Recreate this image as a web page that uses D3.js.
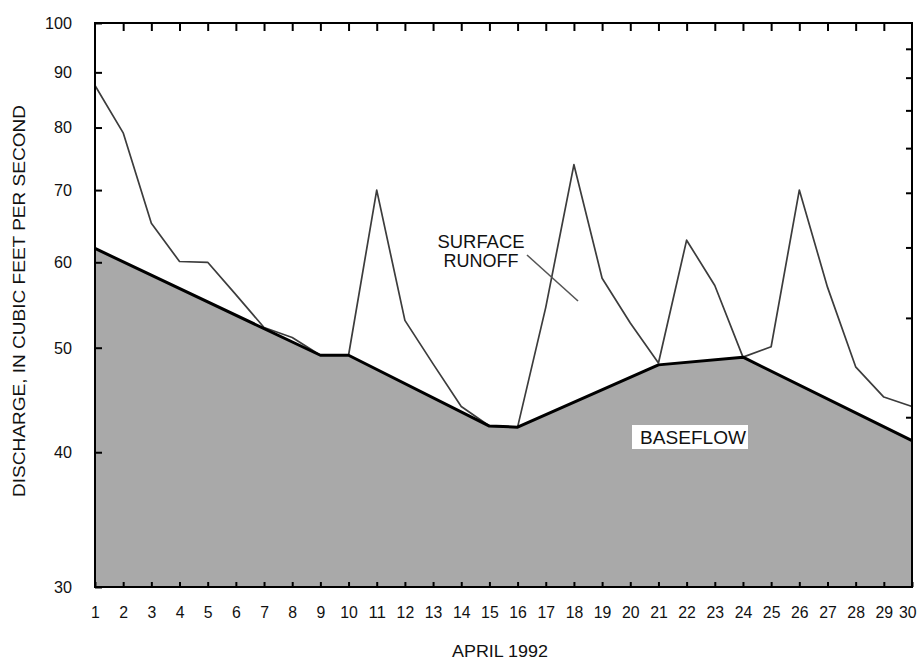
<!DOCTYPE html>
<html><head><meta charset="utf-8">
<script src="https://cdn.jsdelivr.net/npm/d3@7"></script>
<style>
body{margin:0;background:#fff}
svg{display:block}
text{font-family:"Liberation Sans",Arial,sans-serif;fill:#111}
</style>
</head><body><svg id="c" width="919" height="663"></svg>
<script>
// ---- data ----
const days = [1,2,3,4,5,6,7,8,9,10,11,12,13,14,15,16,17,18,19,20,21,22,23,24,25,26,27,28,29,30];
const totalFlow = [87.5,79.1,65.2,60.1,60.0,56.0,52.2,51.1,49.2,49.2,70.0,53.0,48.3,44.1,42.3,42.2,54.5,73.9,58.0,52.7,48.4,62.9,57.1,49.0,50.1,70.0,56.9,48.0,45.0,44.1];
const baseDays = [1,9,10,15,16,21,24,30];
const baseValues = [61.8,49.2,49.2,42.3,42.2,48.2,49.0,41.0];
const yTickValues = [30,40,50,60,70,80,90,100];
const rightTickValues = [2,3,4,5,6,7,8,9];
const xTitle = "APRIL 1992";
const yTitle = "DISCHARGE, IN CUBIC FEET PER SECOND";
const runoffLabel = ["SURFACE","RUNOFF"];
const baseLabel = "BASEFLOW";

// ---- layout ----
const svg = d3.select("#c");
const L = 95, R = 912, T = 23, B = 587;
const x = d3.scaleLinear().domain([1,30]).range([L,R]);
const y = d3.scaleLog().domain([30,100]).range([B,T]);
const yR = d3.scaleLog().domain([1,10]).range([B,T]);

const base = baseDays.map((d,i)=>({d, v: baseValues[i]}));
const total = days.map((d,i)=>({d, v: totalFlow[i]}));

// baseflow area
svg.append("path").datum(base)
  .attr("d", d3.area().x(p=>x(p.d)).y0(y(30)).y1(p=>y(p.v)))
  .attr("fill","#a9a9a9");

// total flow line
svg.append("path").datum(total)
  .attr("d", d3.line().x(p=>x(p.d)).y(p=>y(p.v)))
  .attr("fill","none").attr("stroke","#3c3c3c").attr("stroke-width",1.7)
  .attr("stroke-linejoin","round");

// baseflow line
svg.append("path").datum(base)
  .attr("d", d3.line().x(p=>x(p.d)).y(p=>y(p.v)))
  .attr("fill","none").attr("stroke","#000").attr("stroke-width",3)
  .attr("stroke-linejoin","round");

// axes
function styleAxis(g){
  g.select(".domain").remove();
  g.selectAll(".tick line").attr("stroke","#000").attr("stroke-width",2);
  g.selectAll("text").attr("font-size",17).attr("fill","#111")
   .attr("font-family",'"Liberation Sans",Arial,sans-serif');
}
svg.append("g").attr("transform",`translate(${L},0)`)
  .call(d3.axisLeft(y).tickValues(yTickValues).tickFormat(d3.format("d")).tickSize(-7).tickPadding(23))
  .call(styleAxis)
  .call(g=>g.selectAll("text").attr("textLength",d=>String(d).length*9).attr("lengthAdjust","spacingAndGlyphs"));
const xAx = svg.append("g").attr("transform",`translate(0,${B})`)
  .call(d3.axisBottom(x).tickValues(days).tickFormat(d3.format("d")).tickSize(-5).tickPadding(19))
  .call(styleAxis);
xAx.selectAll("text").attr("textLength",d=>String(d).length*8.8).attr("lengthAdjust","spacingAndGlyphs");
xAx.selectAll("text").filter(d=>d===30).attr("text-anchor","end").attr("x",4);
svg.append("g").attr("transform",`translate(0,${T})`)
  .call(d3.axisTop(x).tickValues(days.slice(1,-1)).tickFormat("").tickSize(-8))
  .call(styleAxis);
svg.append("g").attr("transform",`translate(${R},0)`)
  .call(d3.axisRight(yR).tickValues(rightTickValues).tickFormat("").tickSize(-6))
  .call(styleAxis);

// frame
svg.append("rect").attr("x",L).attr("y",T).attr("width",R-L).attr("height",B-T)
  .attr("fill","none").attr("stroke","#000").attr("stroke-width",2);

// titles
svg.append("text").attr("x",500).attr("y",657).attr("text-anchor","middle")
  .attr("font-size",16).attr("textLength",96).attr("lengthAdjust","spacingAndGlyphs").text(xTitle);
svg.append("text").attr("transform","translate(25,301) rotate(-90)").attr("text-anchor","middle")
  .attr("font-size",16).attr("textLength",392).attr("lengthAdjust","spacingAndGlyphs").text(yTitle);

// surface runoff label and pointer
svg.append("text").attr("x",481).attr("y",248).attr("text-anchor","middle")
  .attr("font-size",18).attr("textLength",87).attr("lengthAdjust","spacingAndGlyphs").text(runoffLabel[0]);
svg.append("text").attr("x",481).attr("y",267).attr("text-anchor","middle")
  .attr("font-size",18).attr("textLength",75).attr("lengthAdjust","spacingAndGlyphs").text(runoffLabel[1]);
svg.append("line").attr("x1",527).attr("y1",255).attr("x2",578).attr("y2",301)
  .attr("stroke","#555").attr("stroke-width",1.6);

// baseflow label
svg.append("rect").attr("x",632).attr("y",425).attr("width",116).attr("height",24).attr("fill","#fff");
svg.append("text").attr("x",693).attr("y",443.5).attr("text-anchor","middle")
  .attr("font-size",18).attr("textLength",106).attr("lengthAdjust","spacingAndGlyphs").text(baseLabel);
</script>
</body></html>
